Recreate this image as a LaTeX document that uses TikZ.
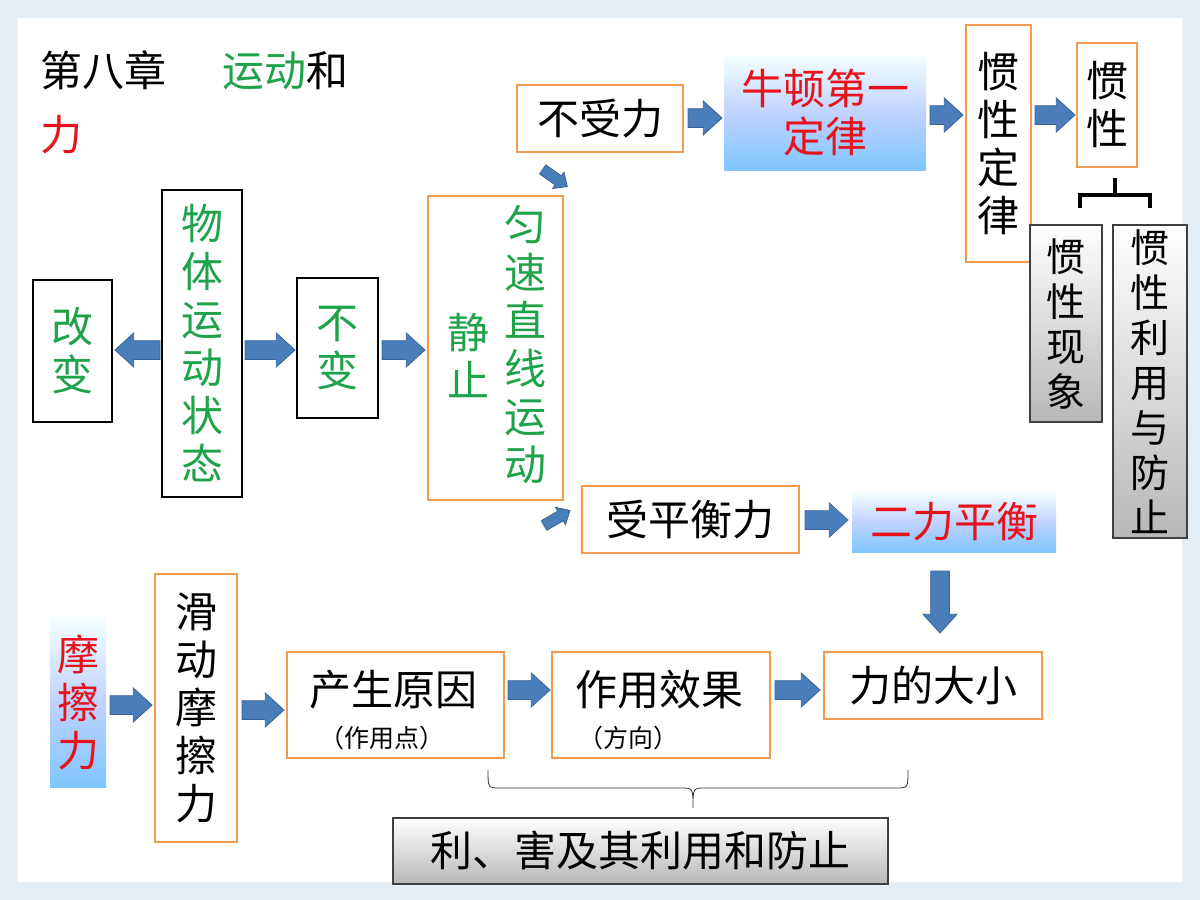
\documentclass[tikz,border=0pt]{standalone}
\usepackage{fontspec}
\setmainfont{Noto Sans CJK SC}
\usetikzlibrary{decorations.pathreplacing}
\definecolor{org}{HTML}{F39A4E}
\definecolor{grn}{HTML}{1FA34A}
\definecolor{rd}{HTML}{E8121B}
\definecolor{arr}{HTML}{4A7EBB}
\definecolor{arrd}{HTML}{3A6598}
\definecolor{bgc}{HTML}{E6EEF5}
\newcommand\blockarr[5]{% x y len angle halfwidth
 \begin{scope}[shift={(#1,#2)},rotate=#4]
 \filldraw[fill=arr,draw=arrd,line width=0.8pt]
  (-#3/2,-#5*0.55) -- (#3/2-#5*1.1,-#5*0.55) -- (#3/2-#5*1.1,-#5) -- (#3/2,0)
  -- (#3/2-#5*1.1,#5) -- (#3/2-#5*1.1,#5*0.55) -- (-#3/2,#5*0.55) -- cycle;
 \end{scope}}
\begin{document}
\begin{tikzpicture}[x=1pt,y=-1pt,
 every node/.style={inner sep=0pt,font=\fontsize{42}{48}\selectfont,align=center},
 obox/.style={draw=org,line width=2.5pt,fill=white},
 kbox/.style={draw=black,line width=2pt,fill=white},
 bbox/.style={draw=none,top color=white!80!cyan!20,bottom color=cyan!55!blue!50,middle color=cyan!30!blue!25},
 gbox/.style={draw=black!75,line width=1.2pt,top color=white,bottom color=black!28},
 small/.style={font=\fontsize{39}{45}\selectfont}]
\fill[bgc] (0,0) rectangle (1200,900);
\fill[white] (18,18) rectangle (1182,882);
\useasboundingbox (0,0) rectangle (1200,900);
% title
\node[anchor=west] (t1) at (40,70) {第八章\hspace{56pt}\textcolor{grn}{运动}和};
\node[anchor=west,text=rd] (t2) at (40,135) {力};
% top row
\node[kbox,minimum width=80pt,minimum height=307pt,text=grn] (wt) at (202,343.5) {物\\体\\运\\动\\状\\态};
\node[kbox,minimum width=79pt,minimum height=142pt,text=grn] (gb) at (72.5,351) {改\\变};
\node[kbox,minimum width=81pt,minimum height=140pt,text=grn] (bb) at (337.5,348) {不\\变};
\node[obox,minimum width=135pt,minimum height=304pt] (big) at (495.5,348) {};
\node[text=grn] (jz) at (468,355) {静\\止};
\node[text=grn] (yd) at (525,345) {匀\\速\\直\\线\\运\\动};
\node[obox,minimum width=166pt,minimum height=67pt] (bsl) at (600,118.5) {不受力};
\node[bbox,minimum width=202pt,minimum height=115pt,text=rd] (nd) at (825,112.5) {牛顿第一\\定律};
\node[obox,minimum width=65pt,minimum height=237pt] (gxdl) at (998.5,143.5) {惯\\性\\定\\律};
\node[obox,minimum width=60pt,minimum height=124pt] (gx) at (1107,105) {惯\\性};
\node[gbox,small,minimum width=72pt,minimum height=197pt] (xx) at (1066,323.5) {惯\\性\\现\\象};
\node[gbox,small,minimum width=74pt,minimum height=313pt] (ly) at (1150,381.5) {惯\\性\\利\\用\\与\\防\\止};
\coordinate (bt) at (1115,178);
\draw[line width=4pt] (1080,208) -- (1080,195) -- (1150,195) -- (1150,208);
\draw[line width=4pt] (1115,195) -- (bt);
\node[obox,minimum width=217pt,minimum height=67pt] (spl) at (690.5,519.5) {受平衡力};
\node[bbox,minimum width=204pt,minimum height=60pt,text=rd] (elp) at (954,522) {二力平衡};
% bottom row
\node[bbox,minimum width=56pt,minimum height=170pt,text=rd] (mcl) at (78,702) {摩\\擦\\力};
\node[obox,minimum width=82pt,minimum height=268pt] (hd) at (196,708) {滑\\动\\摩\\擦\\力};
\node[obox,minimum width=217pt,minimum height=106pt] (cs) at (395.5,705) {};
\node (cst) at (393,690) {产生原因};
\node[font=\fontsize{25}{28}\selectfont] at (382,738) {（作用点）};
\node[obox,minimum width=218pt,minimum height=106pt] (zy) at (661,705) {};
\node (zyt) at (659,690) {作用效果};
\node[font=\fontsize{25}{28}\selectfont] at (628,738) {（方向）};
\node[obox,minimum width=218pt,minimum height=67pt] (dx) at (933,685.5) {力的大小};
\node[gbox,minimum width=495pt,minimum height=66pt] (lh) at (640.5,851) {利、害及其利用和防止};
\draw[line width=0.8pt,black!80] (488,770) .. controls (488,788) .. (500,788) -- (681,788) .. controls (693,788) .. (693,808) .. controls (693,788) .. (705,788) -- (896,788) .. controls (908,788) .. (908,770);
% arrows
\blockarr{137.5}{350}{45}{180}{17}
\blockarr{270}{350}{50}{0}{17}
\blockarr{403.5}{350}{43}{0}{17}
\blockarr{555}{178}{30}{-35}{10}
\blockarr{557}{518}{30}{30}{10}
\blockarr{705}{118}{34}{0}{17}
\blockarr{946.5}{115}{33}{0}{17}
\blockarr{1055}{115}{40}{0}{17}
\blockarr{826.5}{520}{43}{0}{17}
\blockarr{131}{705}{42}{0}{17}
\blockarr{263}{710}{42}{0}{17}
\blockarr{529}{690}{42}{0}{17}
\blockarr{797.5}{690}{45}{0}{17}
\blockarr{940}{602}{62}{-90}{17}
\end{tikzpicture}
\end{document}
